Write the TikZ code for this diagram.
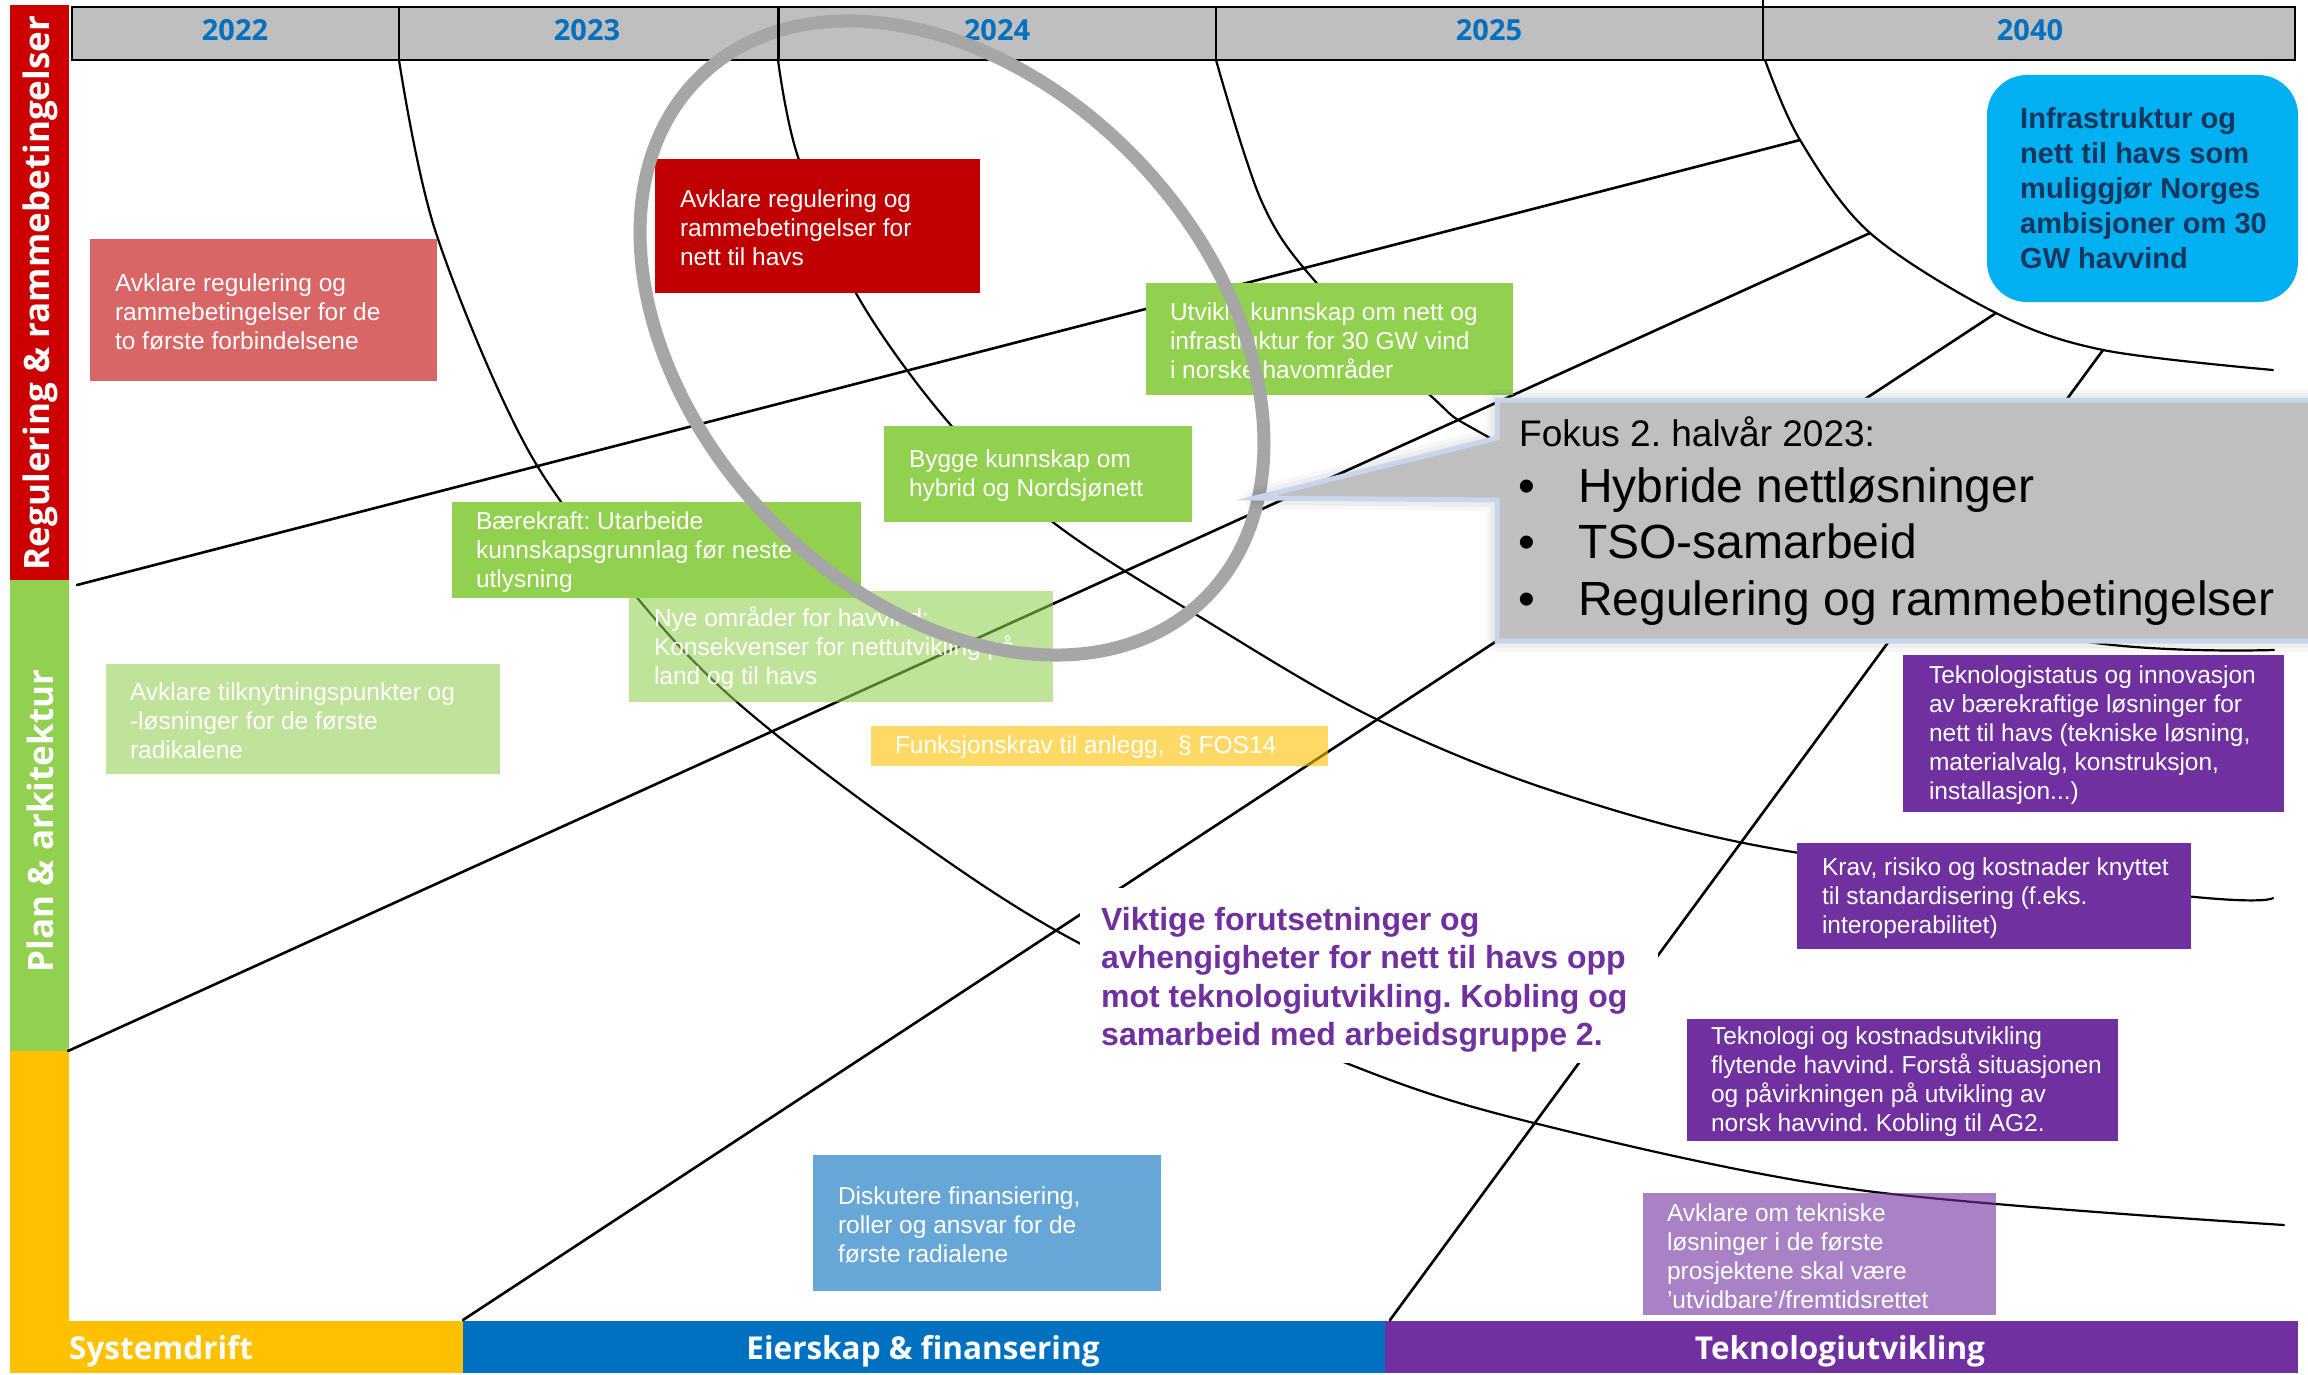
\documentclass[tikz,border=0pt]{standalone}
\usepackage{fontspec}
\setmainfont{Liberation Sans}
\newfontfamily\osans{Open Sans}
\definecolor{hdrgray}{RGB}{191,191,191}
\definecolor{yearblue}{RGB}{0,112,192}
\definecolor{sidered}{RGB}{204,0,0}
\definecolor{sidegreen}{RGB}{146,208,80}
\definecolor{sideyellow}{RGB}{255,192,0}
\definecolor{botblue}{RGB}{0,112,192}
\definecolor{botpurple}{RGB}{112,48,160}
\definecolor{lightred}{RGB}{217,102,102}
\definecolor{darkred}{RGB}{192,0,0}
\definecolor{ellgray}{RGB}{166,166,166}
\definecolor{calloutedge}{RGB}{198,214,237}
\definecolor{skyblue}{RGB}{0,176,240}
\definecolor{navytext}{RGB}{23,54,93}
\definecolor{lightgreen}{RGB}{192,226,155}
\definecolor{diskblue}{RGB}{103,167,215}
\begin{document}
\frenchspacing
\begin{tikzpicture}[x=1pt,y=-1pt,
  crv/.style={line width=2.2pt, line cap=round, line join=round},
  lin/.style={line width=2.6pt, line cap=round},
  bx/.style={rectangle, inner sep=0pt, draw=none},
  bt/.style={anchor=west, inner sep=0pt, align=left, text=white, font=\frenchspacing\fontsize{24.5}{29}\selectfont},
  yr/.style={anchor=base, text=yearblue, font=\osans\bfseries\fontsize{29}{34}\selectfont, inner sep=0pt},
  lane/.style={anchor=base, text=white, font=\osans\bfseries\fontsize{31.5}{36}\selectfont, inner sep=0pt},
  side/.style={text=white, rotate=90, font=\osans\bfseries\fontsize{35}{40}\selectfont, inner sep=0pt},
  fbul/.style={anchor=base west, inner sep=0pt, font=\fontsize{48}{56}\selectfont},
]
\useasboundingbox (0,0) rectangle (2308,1375);
\fill[white] (0,0) rectangle (2308,1375);

% ---------- header ----------
\fill[hdrgray] (72,7) rectangle (2295,60);
\draw[line width=2.5pt] (72,7) rectangle (2295,60);
\draw[line width=2pt] (399,7) -- (399,60);
\draw[line width=3pt] (778,7) -- (778,60);
\draw[line width=2pt] (1216,7) -- (1216,60);
\draw[line width=2pt] (1763,0) -- (1763,60);
\node[yr] (y22) at (235,41) {2022};
\node[yr] (y23) at (587,41) {2023};
\node[yr] (y24) at (997,41) {2024};
\node[yr] (y25) at (1489,41) {2025};
\node[yr] (y40) at (2030,41) {2040};

% ---------- side and bottom bars ----------
\fill[sidered] (10,5) rectangle (69,580);
\fill[sidegreen] (10,580) rectangle (69,1051);
\fill[sideyellow] (10,1051) rectangle (69,1373);
\fill[sideyellow] (10,1321) rectangle (463,1373);
\fill[botblue] (463,1321) rectangle (1385,1373);
\fill[botpurple] (1385,1321) rectangle (2298,1373);
\node[side] (sreg) at (40,293) {Regulering \& rammebetingelser};
\node[side] (splan) at (40,821) {Plan \& arkitektur};
\node[lane, anchor=base west] (lsys) at (69,1359) {Systemdrift};
\node[lane] (leie) at (923,1359) {Eierskap \& finansering};
\node[lane] (ltek) at (1840,1359) {Teknologiutvikling};

% ---------- anchor points ----------
\coordinate (fA) at (1800,140);
\coordinate (fB) at (1870,233);
\coordinate (fC) at (1996,313);
\coordinate (fD) at (2103,350);
\coordinate (sA) at (77,585);
\coordinate (sB) at (68,1051);
\coordinate (sC) at (463,1320);
\coordinate (sD) at (1390,1320);

% ---------- curves ----------
\draw[crv] plot[smooth, tension=0.55] coordinates {(399,60) (436,233) (528,450) (639,600) (738,703) (900,828) (1079,943) (1346,1063) (1534,1123) (1859,1190) (2284,1225)};
\draw[crv] plot[smooth, tension=0.55] coordinates {(778,60) (798,157) (857,295) (949,423) (1054,523) (1200,617) (1372,717) (1559,793) (1793,852) (2195,897) (2273,898)};
\draw[crv] plot[smooth, tension=0.55] coordinates {(1216,60) (1261,200) (1314,280) (1432,397) (1490,438) (1750,575) (2088,642) (2274,650)};
\draw[crv] plot[smooth, tension=0.55] coordinates {(1765,60) (fA) (fB) (fC) (fD) (2273,370)};

% ---------- straight lines ----------
\draw[lin] (sA) -- (fA);
\draw[lin] (sB) -- (fB);
\draw[lin] (sC) -- (fC);
\draw[lin] (sD) -- (fD);

% ---------- boxes ----------
\node[bx, fill=lightred, minimum width=347pt, minimum height=142pt] (b1) at (263.5,310) {};
\node[bt] (b1t) at ([xshift=25pt,yshift=-2pt]b1.west) {Avklare regulering og\\rammebetingelser for de\\to første forbindelsene};

\node[bx, fill=darkred, minimum width=325pt, minimum height=134pt] (b2) at (817.5,226) {};
\node[bt] (b2t) at ([xshift=25pt,yshift=-2pt]b2.west) {Avklare regulering og\\rammebetingelser for\\nett til havs};

\node[bx, fill=sidegreen, minimum width=367pt, minimum height=112pt] (b3) at (1329.5,339) {};
\node[bt] (b3t) at ([xshift=24pt,yshift=-2pt]b3.west) {Utvikle kunnskap om nett og\\infrastruktur for 30 GW vind\\i norske havområder};

\node[bx, fill=sidegreen, minimum width=308pt, minimum height=96pt] (b4) at (1038,474) {};
\node[bt] (b4t) at ([xshift=25pt,yshift=-2pt]b4.west) {Bygge kunnskap om\\hybrid og Nordsjønett};

\node[bx, fill=sidegreen, minimum width=409pt, minimum height=96pt] (b5) at (656.5,550) {};
\node[bt] (b5t) at ([xshift=24pt,yshift=-2pt]b5.west) {Bærekraft: Utarbeide\\kunnskapsgrunnlag før neste\\utlysning};

\node[bx, fill=sidegreen, fill opacity=0.58, minimum width=424pt, minimum height=111pt] (b6) at (841,646.5) {};
\node[bt] (b6t) at ([xshift=25pt,yshift=-2pt]b6.west) {Nye områder for havvind:\\Konsekvenser for nettutvikling på\\land og til havs};

\node[bx, fill=lightgreen, minimum width=394pt, minimum height=110pt] (b7) at (303,719) {};
\node[bt] (b7t) at ([xshift=24pt,yshift=-2pt]b7.west) {Avklare tilknytningspunkter og\\-løsninger for de første\\radikalene};

\node[bx, fill=sideyellow, fill opacity=0.6, minimum width=457pt, minimum height=40pt] (b8) at (1099.5,746) {};
\node[bt] (b8t) at ([xshift=24pt,yshift=-1pt]b8.west) {Funksjonskrav til anlegg,\ \ § FOS14};

\node[bx, fill=diskblue, minimum width=348pt, minimum height=136pt] (b9) at (987,1223) {};
\node[bt] (b9t) at ([xshift=25pt,yshift=-2pt]b9.west) {Diskutere finansiering,\\roller og ansvar for de\\første radialene};

\node[bx, fill=botpurple, minimum width=381pt, minimum height=157pt] (b10) at (2093.5,733.5) {};
\node[bt] (b10t) at ([xshift=26pt,yshift=-2pt]b10.west) {Teknologistatus og innovasjon\\av bærekraftige løsninger for\\nett til havs (tekniske løsning,\\materialvalg, konstruksjon,\\installasjon...)};

\node[bx, fill=botpurple, minimum width=394pt, minimum height=106pt] (b11) at (1994,896) {};
\node[bt] (b11t) at ([xshift=25pt,yshift=-2pt]b11.west) {Krav, risiko og kostnader knyttet\\til standardisering (f.eks.\\interoperabilitet)};

\node[bx, fill=botpurple, minimum width=431pt, minimum height=122pt] (b12) at (1902.5,1080) {};
\node[bt] (b12t) at ([xshift=24pt,yshift=-2pt]b12.west) {Teknologi og kostnadsutvikling\\flytende havvind. Forstå situasjonen\\og påvirkningen på utvikling av\\norsk havvind. Kobling til AG2.};

\node[bx, fill=botpurple, fill opacity=0.6, minimum width=353pt, minimum height=122pt] (b13) at (1819.5,1254) {};
\node[bt] (b13t) at ([xshift=24pt,yshift=-2pt]b13.west) {Avklare om tekniske\\løsninger i de første\\prosjektene skal være\\'utvidbare'/fremtidsrettet};

% ---------- Viktige text block ----------
\node[bx, fill=white, minimum width=578pt, minimum height=175pt] (vk) at (1369,975.5) {};
\node[anchor=north west, inner sep=0pt, align=left, text=botpurple, font=\bfseries\fontsize{32}{38.5}\selectfont] (vkt) at (1101,903) {\strut Viktige forutsetninger og\\avhengigheter for nett til havs opp\\mot teknologiutvikling. Kobling og\\samarbeid med arbeidsgruppe 2.};

% ---------- goal box ----------
\node[bx, fill=skyblue, rounded corners=40pt, minimum width=311pt, minimum height=227pt] (goal) at (2142.5,188.5) {};
\node[anchor=north west, inner sep=0pt, align=left, text=navytext, font=\bfseries\fontsize{29}{35}\selectfont] (goalt) at (2020,103.5) {\strut Infrastruktur og\\nett til havs som\\muliggjør Norges\\ambisjoner om 30\\GW havvind};

% ---------- focus ellipse ----------
\draw[ellgray, line width=13pt, rotate around={-46.4:(952,338)}] (952,338) ellipse [x radius=363, y radius=257];
\draw[line width=3pt] (778,7) -- (778,60);

% ---------- callout ----------
\coordinate (c1) at (1497,400);
\coordinate (c2) at (2330,400);
\coordinate (c3) at (2330,641);
\coordinate (c4) at (1497,641);
\coordinate (c5) at (1497,500);
\coordinate (ctip) at (1255,498);
\coordinate (c6) at (1497,438);
\draw[black, opacity=0.03, line width=22pt, line join=round] (c1) -- (c2) -- (c3) -- (c4) -- (c5) -- (ctip) -- (c6) -- cycle;
\draw[black, opacity=0.04, line width=14pt, line join=round] (c1) -- (c2) -- (c3) -- (c4) -- (c5) -- (ctip) -- (c6) -- cycle;
\draw[fill=hdrgray, draw=calloutedge, line width=5pt, line join=miter] (c1) -- (c2) -- (c3) -- (c4) -- (c5) -- (ctip) -- (c6) -- cycle;
\node[anchor=base west, inner sep=0pt, font=\fontsize{37}{44}\selectfont] (fk) at (1519,446) {Fokus 2. halvår 2023:};
\node[anchor=base, inner sep=0pt, font=\fontsize{48}{56}\selectfont] (bu1) at (1527,502) {•};
\node[anchor=base, inner sep=0pt, font=\fontsize{48}{56}\selectfont] (bu2) at (1527,558) {•};
\node[anchor=base, inner sep=0pt, font=\fontsize{48}{56}\selectfont] (bu3) at (1527,615) {•};
\node[fbul] (fk1) at (1578,502) {Hybride nettløsninger};
\node[fbul] (fk2) at (1578,558) {TSO-samarbeid};
\node[fbul] (fk3) at (1578,615) {Regulering og rammebetingelser};
\end{tikzpicture}
\end{document}
